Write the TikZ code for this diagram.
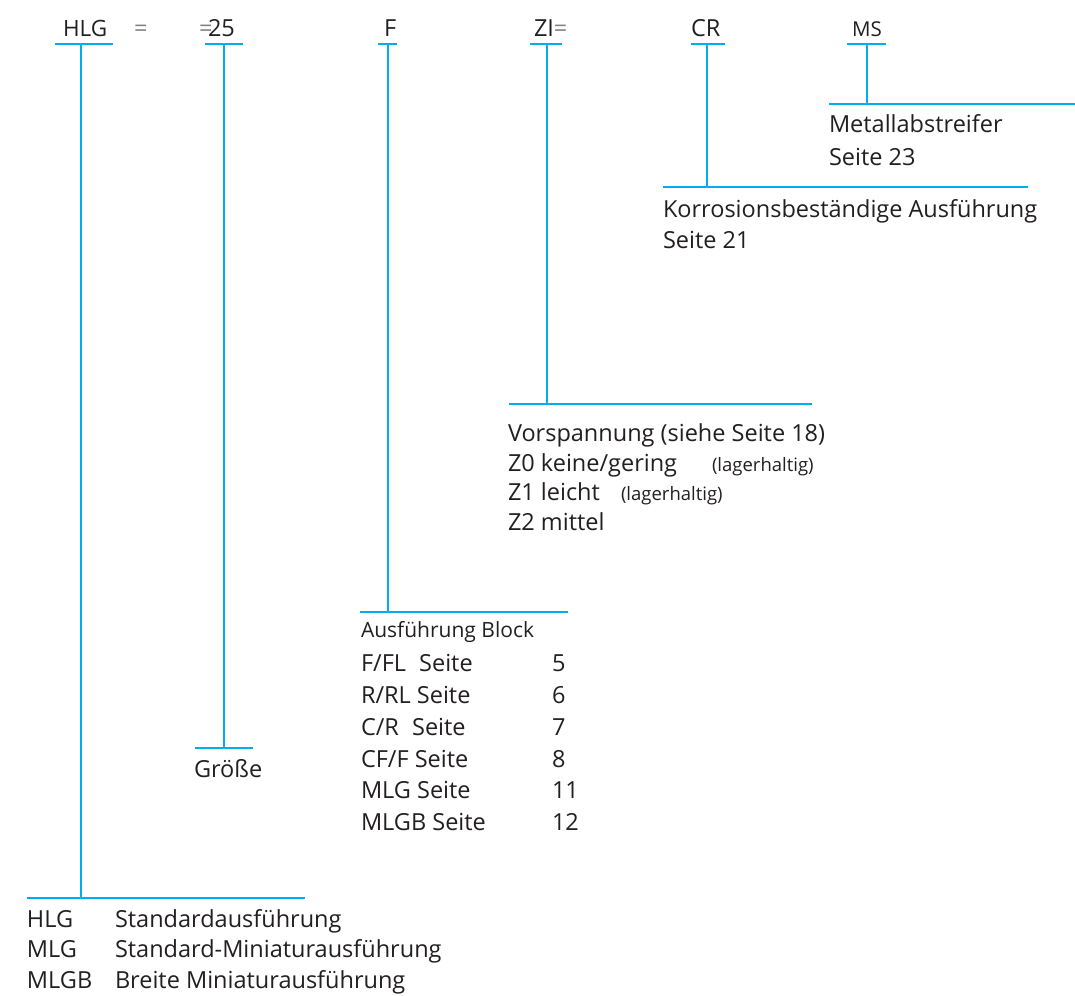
\documentclass[tikz,border=0pt]{standalone}
\usepackage{fontspec}
\setmainfont{Open Sans}
\definecolor{rulecyan}{HTML}{00AEEF}
\definecolor{ink}{HTML}{231F20}
\definecolor{eqgray}{HTML}{808080}

\begin{document}
\begin{tikzpicture}[x=1pt,y=-1pt,
  lbl/.style={anchor=base west, inner sep=0pt, outer sep=0pt, text=ink,
              font=\fontsize{23.5}{23.5}\selectfont},
  lblsmall/.style={lbl, font=\fontsize{21}{21}\selectfont},
  lbltiny/.style={lbl, font=\fontsize{18.5}{18.5}\selectfont},
  eqsign/.style={lbl, text=eqgray},
  bar/.style={draw=rulecyan, line width=2.5pt},
]
\useasboundingbox (0,0) rectangle (1075,995);

% order code
\node[lbl, font=\fontsize{22.5}{22.5}\selectfont] (hlg) at (63,37) {HLG};
\node[eqsign] (eqa) at (134,37) {=};
\node[eqsign] (eqb) at (199,37) {=};
\node[lbl] (size) at (208,37) {25};
\node[lbl] (f) at (384,37) {F};
\node[lbl] (zi) at (534,37) {ZI};
\node[eqsign] (eqc) at (zi.base east) {=};
\node[lbl] (cr) at (691,37) {CR};
\node[lbl, font=\fontsize{20.5}{20.5}\selectfont] (ms) at (852,37) {MS};

% brackets: top bar, stem, bottom bar
\foreach \n/\a/\b/\v/\c/\d/\y in {
    hlg/55/113/81/27/305/898,
    size/205/243/224/195/253/748,
    f/378/397/388/360/568/612,
    zi/530/562/547/509/812/404,
    cr/691/725/707/663/1028/187,
    ms/847/886/867/829/1075/104} {
  \coordinate (\n-tl) at (\a,44);
  \coordinate (\n-tr) at (\b,44);
  \coordinate (\n-top) at (\v,44);
  \coordinate (\n-foot) at (\v,\y);
  \coordinate (\n-bl) at (\c,\y);
  \coordinate (\n-br) at (\d,\y);
  \draw[bar] (\n-tl) -- (\n-tr);
  \draw[bar] (\n-top) -- (\n-foot);
  \draw[bar] (\n-bl) -- (\n-br);
}

% MS
\node[lbl] (msa) at (829,133) {Metallabstreifer};
\node[lbl] (msb) at (829,165) {Seite 23};

% CR
\node[lbl] (cra) at (663,217) {Korrosionsbeständige Ausführung};
\node[lbl] (crb) at (663,248) {Seite 21};

% ZI
\node[lbl] (zia) at (508,441) {Vorspannung (siehe Seite 18)};
\node[lbl] (zib) at (508,471) {Z0 keine/gering};
\node[lbltiny] (zibn) at (712,471) {(lagerhaltig)};
\node[lbl] (zic) at (508,500) {Z1 leicht};
\node[lbltiny] (zicn) at (621,500) {(lagerhaltig)};
\node[lbl] (zid) at (508,530) {Z2 mittel};

% F
\node[lblsmall] (fa) at (361,637) {Ausführung Block};
\foreach \k/\t/\p/\yy in {b/{F/FL\hspace{0.3em} Seite}/5/671,
                          c/{R/RL Seite}/6/703,
                          d/{C/R\hspace{0.3em} Seite}/7/735,
                          e/{CF/F Seite}/8/767,
                          f/{MLG Seite}/11/798,
                          g/{MLGB Seite}/12/830} {
  \node[lbl] (f\k) at (361,\yy) {\t};
  \node[lbl] (f\k-page) at (552,\yy) {\p};
}

% size
\node[lbl] (sizea) at (194,777) {Größe};

% HLG
\node[lbl] (hlga) at (27,927) {HLG};
\node[lbl] (hlgat) at (115,927) {Standardausführung};
\node[lbl] (hlgb) at (27,957) {MLG};
\node[lbl] (hlgbt) at (115,957) {Standard-Miniaturausführung};
\node[lbl] (hlgc) at (27,988) {MLGB};
\node[lbl] (hlgct) at (115,988) {Breite Miniaturausführung};
\end{tikzpicture}
\end{document}
